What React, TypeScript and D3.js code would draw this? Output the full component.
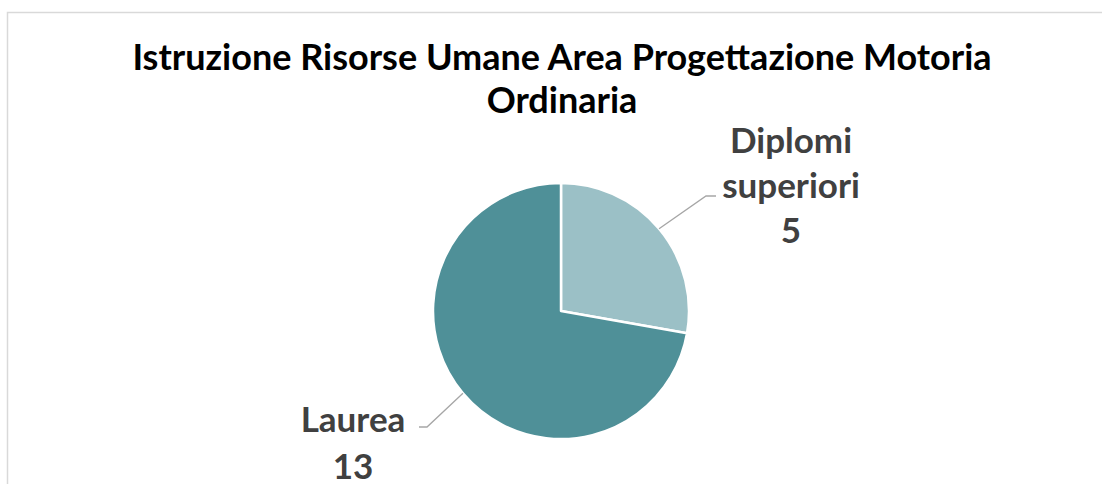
import { useEffect, useRef } from "react";
import * as d3 from "d3";

const categories = ["Diplomi superiori", "Laurea"];
const values = [5, 13];
const colors = ["#9bc0c6", "#4f9098"];
const titleLines = ["Istruzione Risorse Umane Area Progettazione Motoria", "Ordinaria"];

const W = 1102;
const H = 484;

export default function App() {
  const svgRef = useRef<SVGSVGElement>(null);

  useEffect(() => {
    if (!svgRef.current) return;
    const svg = d3.select(svgRef.current);
    svg.selectAll("*").remove();

    const font = "Lato, 'Open Sans', sans-serif";

    // chart frame (runs off the right and bottom edges)
    svg.append("rect")
      .attr("x", 7.5).attr("y", 12.5)
      .attr("width", W + 20).attr("height", H + 20)
      .attr("fill", "#fff")
      .attr("stroke", "#d9d9d9")
      .attr("stroke-width", 1.5);

    // title
    svg.append("g").selectAll("text")
      .data(titleLines)
      .enter()
      .append("text")
      .attr("x", 562)
      .attr("y", (_, i) => 70 + i * 43)
      .attr("text-anchor", "middle")
      .style("font-family", font)
      .style("font-weight", "700")
      .style("font-size", "36px")
      .style("fill", "#000")
      .text(d => d);

    const cx = 561, cy = 311, r = 128;
    const data = categories.map((c, i) => ({ name: c, value: values[i], color: colors[i] }));

    const pie = d3.pie<any>().sort(null).value(d => d.value);
    const arc = d3.arc<any>().innerRadius(0).outerRadius(r);
    const arcs = pie(data);

    const g = svg.append("g").attr("transform", `translate(${cx},${cy})`);
    g.selectAll("path")
      .data(arcs)
      .enter()
      .append("path")
      .attr("d", arc)
      .attr("fill", d => d.data.color)
      .attr("stroke", "#fff")
      .attr("stroke-width", 2.5)
      .attr("stroke-linejoin", "round");

    // labels with leader lines
    const labelCfg = [
      { elbow: [145, -115], end: [155, -115], lx: 230, ly: -158, gap: 45, lines: ["Diplomi", "superiori", String(values[0])] },
      { elbow: [-134, 116], end: [-142, 116], lx: -208, ly: 121, gap: 47, lines: ["Laurea", String(values[1])] }
    ];

    arcs.forEach((a, i) => {
      const mid = (a.startAngle + a.endAngle) / 2;
      const sx = r * Math.sin(mid), sy = -r * Math.cos(mid);
      const cfg = labelCfg[i];
      g.append("path")
        .attr("d", d3.line()([[sx, sy], cfg.elbow as [number, number], cfg.end as [number, number]]))
        .attr("fill", "none")
        .attr("stroke", "#a6a6a6")
        .attr("stroke-width", 1.3);

      const t = g.append("text")
        .attr("text-anchor", "middle")
        .style("font-family", font)
        .style("font-weight", "700")
        .style("font-size", "35px")
        .style("fill", "#404040");
      cfg.lines.forEach((ln, j) => {
        t.append("tspan")
          .attr("x", cfg.lx)
          .attr("y", cfg.ly + j * cfg.gap)
          .text(ln);
      });
    });
  }, []);

  return (
    <div style={{ position: "fixed", left: 0, top: 0, width: W, height: H, background: "#fff" }}>
      <svg ref={svgRef} width={W} height={H} />
    </div>
  );
}
